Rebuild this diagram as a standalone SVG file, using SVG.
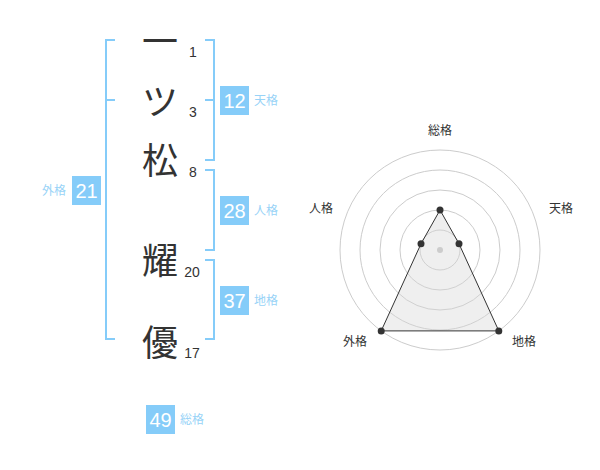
<svg xmlns="http://www.w3.org/2000/svg" width="600" height="470" viewBox="0 0 600 470">
<style>
.br{fill:none;stroke:#85ccf9;stroke-width:2}
.box{fill:#85ccf9}
.bn{font-family:"Liberation Sans",Arial,sans-serif;font-size:20px;fill:#fff;text-anchor:middle}
.bl{font-family:"Noto Sans CJK JP",sans-serif;font-size:12px;fill:#98d3f7}
.ch{font-family:"Noto Sans CJK JP",sans-serif;font-size:36px;fill:#333;text-anchor:middle}
.sn{font-family:"Liberation Sans",Arial,sans-serif;font-size:14px;fill:#333;text-anchor:middle}
.ring{fill:none;stroke:#cccccc;stroke-width:1}
.rl{font-family:"Noto Sans CJK JP",sans-serif;font-size:12px;fill:#333;text-anchor:middle}
.pt{fill:#333}
</style>
<rect width="600" height="470" fill="#fff"/>
<g id="connectors">
<path class="br" d="M115,40 H106 V339 H115 M106,100 H115"/>
<path class="br" d="M205,40 H214 V160 H205 M205,100 H214"/>
<path class="br" d="M205,170 H214 V250 H205"/>
<path class="br" d="M205,260 H214 V339 H205"/>
</g>
<g id="chars">
<g id="c1"><text class="ch" x="160" y="55">一</text><text class="sn" x="193" y="57">1</text></g>
<g id="c2"><text class="ch" x="160" y="115">ツ</text><text class="sn" x="193" y="117">3</text></g>
<g id="c3"><text class="ch" x="160" y="174">松</text><text class="sn" x="193" y="177">8</text></g>
<g id="c4"><text class="ch" x="160" y="274">耀</text><text class="sn" x="192" y="277">20</text></g>
<g id="c5"><text class="ch" x="160" y="356">優</text><text class="sn" x="192" y="358">17</text></g>
</g>
<g id="tenkaku"><rect class="box" x="220" y="86" width="29" height="29"/><text class="bn" x="234.5" y="107.7">12</text><text class="bl" x="254" y="105">天格</text></g>
<g id="jinkaku"><rect class="box" x="220" y="196" width="29" height="29"/><text class="bn" x="234.5" y="217.7">28</text><text class="bl" x="254" y="215">人格</text></g>
<g id="chikaku"><rect class="box" x="220" y="286" width="29" height="29"/><text class="bn" x="234.5" y="307.7">37</text><text class="bl" x="254" y="305">地格</text></g>
<g id="gaikaku"><rect class="box" x="72" y="176" width="29" height="29"/><text class="bn" x="86.5" y="197.7">21</text><text class="bl" x="66" y="195" text-anchor="end">外格</text></g>
<g id="soukaku"><rect class="box" x="146" y="405" width="29" height="29"/><text class="bn" x="160.5" y="426.7">49</text><text class="bl" x="180" y="424">総格</text></g>
<g id="radar">
<circle class="ring" cx="440" cy="250" r="20"/>
<circle class="ring" cx="440" cy="250" r="40"/>
<circle class="ring" cx="440" cy="250" r="60"/>
<circle class="ring" cx="440" cy="250" r="80"/>
<circle class="ring" cx="440" cy="250" r="100"/>
<polygon points="440,210 459,243.8 498.8,330.9 381.2,330.9 421,243.8" fill="#d8d8d8" fill-opacity="0.4" stroke="#333" stroke-width="1"/>
<circle cx="440" cy="250" r="3" fill="#cccccc"/>
<circle class="pt" cx="440" cy="210" r="3.5"/>
<circle class="pt" cx="459" cy="243.8" r="3.5"/>
<circle class="pt" cx="498.8" cy="330.9" r="3.5"/>
<circle class="pt" cx="381.2" cy="330.9" r="3.5"/>
<circle class="pt" cx="421" cy="243.8" r="3.5"/>
<text class="rl" x="440" y="135">総格</text>
<text class="rl" x="561" y="213">天格</text>
<text class="rl" x="321" y="213">人格</text>
<text class="rl" x="355" y="346">外格</text>
<text class="rl" x="524" y="346">地格</text>
</g>
</svg>
